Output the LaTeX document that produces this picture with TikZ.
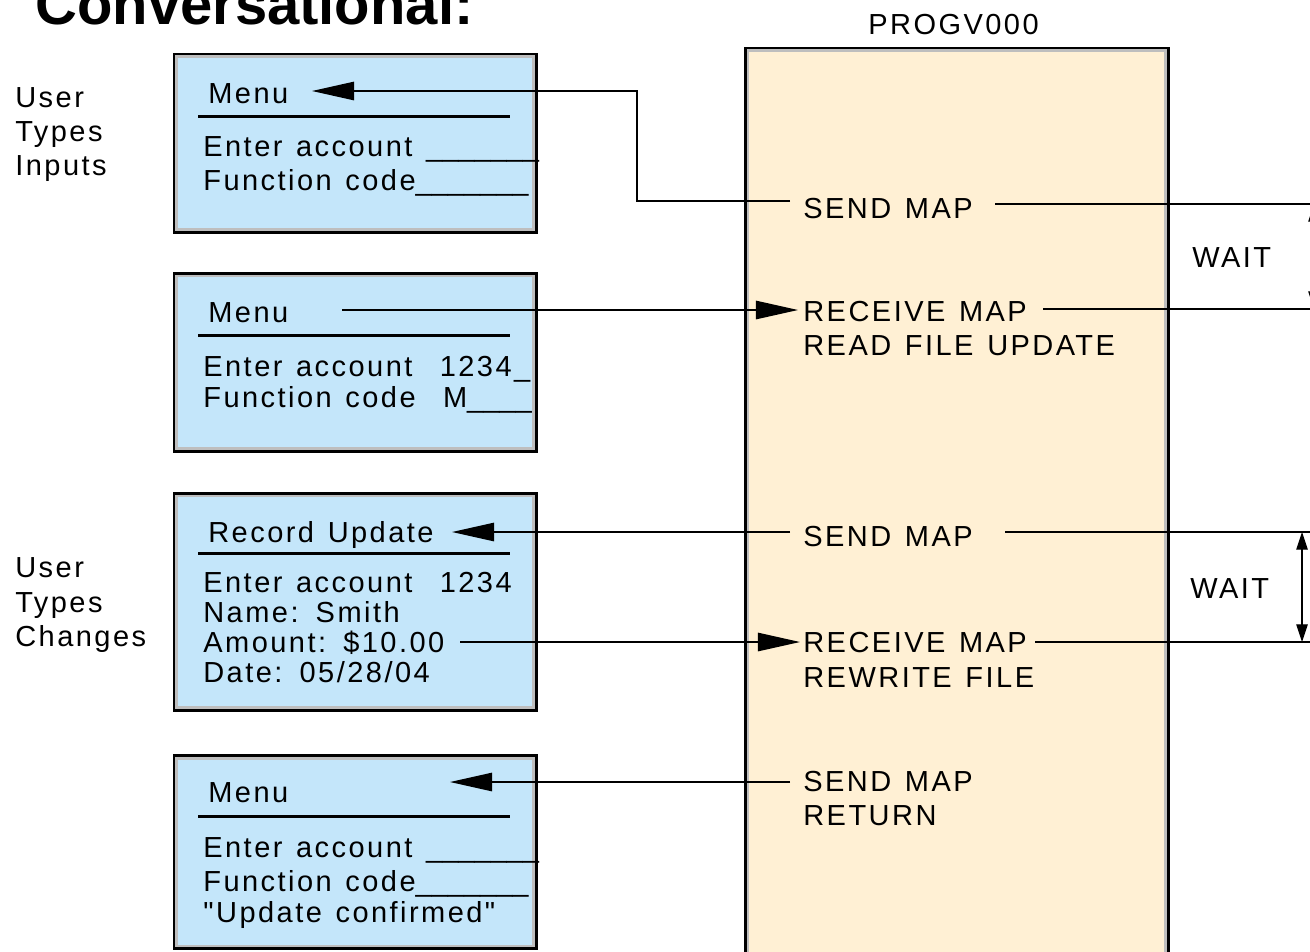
\documentclass[tikz,border=0pt]{standalone}
\usepackage{fontspec}
\setmainfont{Liberation Sans}[LetterSpace=8.5, WordSpace=1.3, Ligatures=TeXOff]
\newfontfamily\titlefont{Liberation Sans}
\usetikzlibrary{arrows.meta}
\definecolor{screenblue}{RGB}{196,230,250}
\definecolor{progtan}{RGB}{255,240,212}
\definecolor{rimgray}{RGB}{190,190,190}
% input fields: underscores set without tracking so they join up
\newcommand\blanks[1]{{\addfontfeature{LetterSpace=0}#1}}
\newcommand\dq{\symbol{34}}

\begin{document}
\begin{tikzpicture}[x=0.02cm,y=-0.02cm,
  txt/.style={anchor=base west, inner sep=0pt, font=\fontsize{16.5}{20}\selectfont},
  screen/.style={draw=black, line width=1.7pt, fill=screenblue, anchor=north west,
                 inner sep=0pt, outer sep=0pt, minimum width=7.26cm},
  progbox/.style={draw=black, line width=1.7pt, fill=progtan, anchor=north west,
                 inner sep=0pt, outer sep=0pt},
  rim/.style={draw=rimgray, line width=1.7pt},
  bar/.style={line width=1.7pt},
  link/.style={line width=0.85pt},
  big/.style={-{Triangle[length=24pt,width=10.5pt]}},
  span/.style={{Triangle[length=10pt,width=6.5pt]}-{Triangle[length=10pt,width=6.5pt]}, line width=0.6pt}
]
\useasboundingbox (0,0) rectangle (1310,951);
\clip (0,0) rectangle (1310,951);

% title
\node[anchor=base west, inner sep=0pt, font=\titlefont\bfseries\fontsize{33}{38}\selectfont]
  (title) at (35,24) {Conversational:};

% side labels
\node[txt] (u1) at (15,107) {User};
\node[txt] (u2) at (15,141) {Types};
\node[txt] (u3) at (15,175) {Inputs};
\node[txt] (c1) at (15,577) {User};
\node[txt] (c2) at (15,612) {Types};
\node[txt] (c3) at (15,646) {Changes};

% terminal screens
\node[screen, minimum height=3.58cm] (scr1) at (174,54) {};
\node[screen, minimum height=3.58cm] (scr2) at (174,273) {};
\node[screen, minimum height=4.36cm] (scr3) at (174,493) {};
\node[screen, minimum height=3.88cm] (scr4) at (174,755) {};

% program
\node[progbox, minimum width=8.48cm, minimum height=18.6cm] (prog) at (745,48) {};
\node[txt] (pname) at (868,34) {PROGV000};

\foreach \b in {scr1,scr2,scr3,scr4,prog}
  \draw[rim] ([xshift=1.7pt,yshift=-1.7pt]\b.north west) rectangle ([xshift=-1.7pt,yshift=1.7pt]\b.south east);

% header bars
\draw[bar] (198,116) -- (510,116);
\draw[bar] (198,335) -- (510,335);
\draw[bar] (198,553) -- (510,553);
\draw[bar] (198,816) -- (510,816);

% screen 1
\node[txt] (s1a) at (208,103) {Menu};
\node[txt] (s1b) at (203,156) {Enter account \blanks{\_\_\_\_\_\_\_}};
\node[txt] (s1c) at (203,190) {Function code\blanks{\_\_\_\_\_\_\_}};
% screen 2
\node[txt] (s2a) at (208,322) {Menu};
\node[txt] (s2b) at (203,376) {Enter account\ \ 1234\_};
\node[txt] (s2c) at (203,407) {Function code\ \ M\blanks{\_\_\_\_}};
% screen 3
\node[txt] (s3a) at (208,542) {Record Update};
\node[txt] (s3b) at (203,592) {Enter account\ \ 1234};
\node[txt] (s3c) at (203,622) {Name: Smith};
\node[txt] (s3d) at (203,652) {Amount: \$10.00};
\node[txt] (s3e) at (203,682) {Date: 05/28/04};
% screen 4
\node[txt] (s4a) at (208,802) {Menu};
\node[txt] (s4b) at (203,857) {Enter account \blanks{\_\_\_\_\_\_\_}};
\node[txt] (s4c) at (203,891) {Function code\blanks{\_\_\_\_\_\_\_}};
\node[txt] (s4d) at (203,922) {\dq Update confirmed\dq};

% program steps
\node[txt] (p1) at (803,218) {SEND MAP};
\node[txt] (p2) at (803,321) {RECEIVE MAP};
\node[txt] (p3) at (803,355) {READ FILE UPDATE};
\node[txt] (p4) at (803,546) {SEND MAP};
\node[txt] (p5) at (803,652) {RECEIVE MAP};
\node[txt] (p6) at (803,687) {REWRITE FILE};
\node[txt] (p7) at (803,791) {SEND MAP};
\node[txt] (p8) at (803,825) {RETURN};
\node[txt] (w1) at (1192,267) {WAIT};
\node[txt] (w2) at (1190,598) {WAIT};

% connector ends
\coordinate (a1s) at (790,201);
\coordinate (a1k) at (637,91);
\coordinate (a1e) at (312,91);
\coordinate (a2s) at (342,310);
\coordinate (a2e) at (798,310);
\coordinate (a3s) at (790,532);
\coordinate (a3e) at (452,532);
\coordinate (a4s) at (460,642);
\coordinate (a4e) at (800,642);
\coordinate (a5s) at (790,782);
\coordinate (a5e) at (450,782);

\draw[link,big] (a1s) -| (a1k) -- (a1e);
\draw[link,big] (a2s) -- (a2e);
\draw[link,big] (a3s) -- (a3e);
\draw[link,big] (a4s) -- (a4e);
\draw[link,big] (a5s) -- (a5e);

% time lines on the right
\coordinate (r1s) at (995,204);  \coordinate (r1e) at (1310,204);
\coordinate (r2s) at (1043,309); \coordinate (r2e) at (1310,309);
\coordinate (r3s) at (1005,532); \coordinate (r3e) at (1310,532);
\coordinate (r4s) at (1035,642); \coordinate (r4e) at (1310,642);
\draw[link] (r1s) -- (r1e);
\draw[link] (r2s) -- (r2e);
\draw[link] (r3s) -- (r3e);
\draw[link] (r4s) -- (r4e);

\coordinate (v1a) at (1314,204); \coordinate (v1b) at (1314,309);
\coordinate (v2a) at (1302,532); \coordinate (v2b) at (1302,642);
\draw[span] (v1a) -- (v1b);
\draw[span] (v2a) -- (v2b);
\end{tikzpicture}
\end{document}
